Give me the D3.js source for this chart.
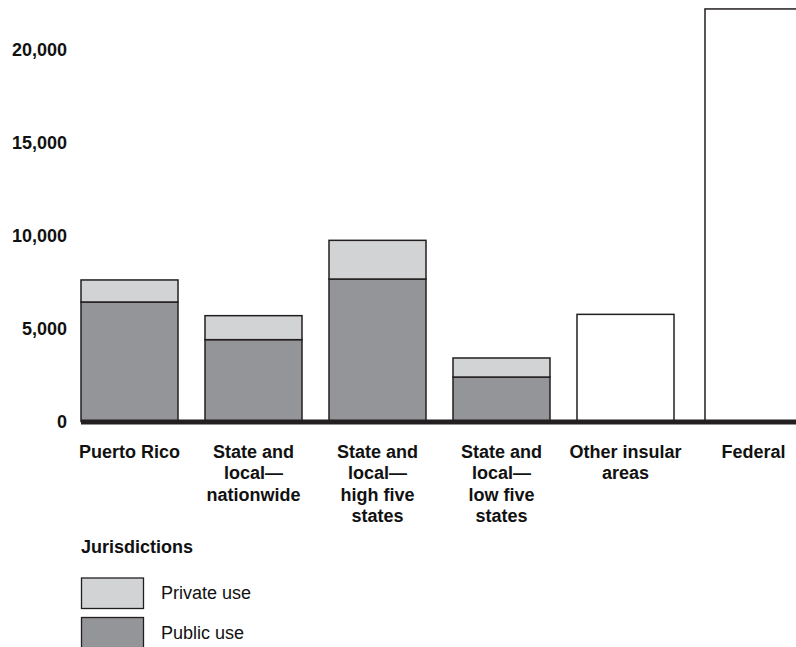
<!DOCTYPE html>
<html>
<head>
<meta charset="utf-8">
<script src="https://cdn.jsdelivr.net/npm/d3@7"></script>
<style>
html,body{margin:0;padding:0;background:#fff;}
svg{display:block;font-family:"Liberation Sans",Arial,Helvetica,sans-serif;}
</style>
</head>
<body>
<svg id="chart" width="796" height="647"></svg>
<script>
const categories = [
  ["Puerto Rico"],
  ["State and", "local\u2014", "nationwide"],
  ["State and", "local\u2014", "high five", "states"],
  ["State and", "local\u2014", "low five", "states"],
  ["Other insular", "areas"],
  ["Federal"]
];
const categoryKeys = ["pr", "nation", "high5", "low5", "insular", "federal"];
const publicUse  = [6425, 4400, 7660, 2390, null, null];
const privateUse = [1185, 1290, 2080, 1025, null, null];
const totalOnly  = [null, null, null, null, 5760, 22180];
const yTicks = [0, 5000, 10000, 15000, 20000];
const legendItems = ["Private use", "Public use"];
const legendTitle = "Jurisdictions";

const colors = {pub: "#939598", priv: "#d1d3d4", stroke: "#231f20", text: "#111"};

const svg = d3.select("#chart");
const x = d3.scaleBand().domain(categoryKeys).range([81, 798]).paddingInner(0.2177).paddingOuter(0);
const y = d3.scaleLinear().domain([0, 20000]).range([421.5, 49.5]);
const shift = k => (k === "federal" ? 4 : 0);

// y tick labels
svg.append("g").selectAll("text").data(yTicks).join("text")
  .attr("x", 67).attr("y", d => y(d)).attr("dy", "0.35em")
  .attr("text-anchor", "end").attr("font-weight", "bold").attr("font-size", 18)
  .attr("fill", colors.text)
  .text(d => d3.format(",")(d));

const bars = svg.append("g");
categoryKeys.forEach((k, i) => {
  const bx = x(k) + shift(k), bw = x.bandwidth();
  if (publicUse[i] != null) {
    bars.append("rect").attr("x", bx).attr("width", bw)
      .attr("y", y(publicUse[i])).attr("height", y(0) - y(publicUse[i]))
      .attr("fill", colors.pub).attr("stroke", colors.stroke).attr("stroke-width", 1.5);
    const tot = publicUse[i] + privateUse[i];
    bars.append("rect").attr("x", bx).attr("width", bw)
      .attr("y", y(tot)).attr("height", y(publicUse[i]) - y(tot))
      .attr("fill", colors.priv).attr("stroke", colors.stroke).attr("stroke-width", 1.5);
  } else {
    bars.append("rect").attr("x", bx).attr("width", bw)
      .attr("y", y(totalOnly[i])).attr("height", y(0) - y(totalOnly[i]))
      .attr("fill", "#fff").attr("stroke", colors.stroke).attr("stroke-width", 1.5);
  }
});

// baseline
svg.append("line").attr("x1", x(categoryKeys[0])).attr("x2", 796)
  .attr("y1", y(0) + 0.5).attr("y2", y(0) + 0.5)
  .attr("stroke", colors.stroke).attr("stroke-width", 5);

// category labels
const lab = svg.append("g");
categoryKeys.forEach((k, i) => {
  const cx = x(k) + shift(k) + x.bandwidth() / 2;
  const t = lab.append("text").attr("x", cx).attr("y", 458)
    .attr("text-anchor", "middle").attr("font-weight", "bold").attr("font-size", 18)
    .attr("fill", colors.text);
  categories[i].forEach((line, j) => {
    t.append("tspan").attr("x", cx).attr("y", 458 + j * 21.3).text(line);
  });
});

// legend
svg.append("text").attr("x", 81).attr("y", 553).attr("font-weight", "bold")
  .attr("font-size", 18).attr("fill", colors.text).text(legendTitle);
const lg = svg.append("g");
legendItems.forEach((name, i) => {
  lg.append("rect").attr("x", 81.5).attr("y", 578 + i * 39.5).attr("width", 62).attr("height", 30.5)
    .attr("fill", i === 0 ? colors.priv : colors.pub).attr("stroke", colors.stroke).attr("stroke-width", 1.3);
  lg.append("text").attr("x", 161).attr("y", 599 + i * 40).attr("font-size", 18)
    .attr("fill", colors.text).text(name);
});
</script>
</body>
</html>
